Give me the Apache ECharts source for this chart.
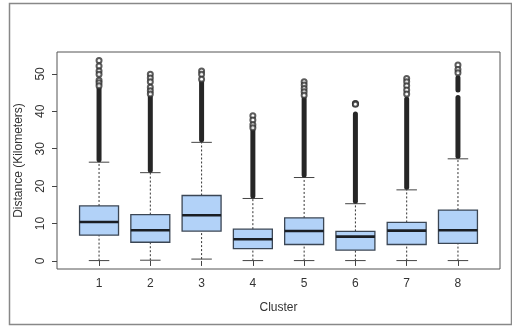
<!DOCTYPE html>
<html><head><meta charset="utf-8">
<script src="https://cdn.jsdelivr.net/npm/echarts@6/dist/echarts.min.js"></script>
<style>html,body{margin:0;padding:0;background:#fff;}#c{width:512px;height:327px;}</style>
</head><body><div id="c"></div>
<script>
const clusters = [1, 2, 3, 4, 5, 6, 7, 8];
const whiskerLow = [0.1, 0.2, 0.5, 0.1, 0.1, 0.1, 0.1, 0.1];
const q1 = [6.9, 5.0, 8.0, 3.3, 4.4, 2.9, 4.4, 4.7];
const median = [10.4, 8.2, 12.2, 5.8, 8.0, 6.5, 8.1, 8.2];
const q3 = [14.7, 12.4, 17.5, 8.5, 11.5, 7.9, 10.3, 13.6];
const whiskerHigh = [26.4, 23.6, 31.7, 16.7, 22.3, 15.3, 19.0, 27.3];
// dense outlier runs: [cluster, from, to]
const denseRuns = [
  [1, 26.4, 46.0],
  [2, 23.6, 43.7],
  [3, 31.7, 47.7],
  [4, 16.7, 34.8],
  [5, 22.3, 43.3],
  [6, 15.3, 39.3],
  [7, 19.0, 43.3],
  [8, 27.3, 43.7],
  [8, 45.0, 49.0]
];
// individual outliers: [cluster, value]
const outliers = [
  [1, 53.6], [1, 52.1], [1, 50.8], [1, 49.9], [1, 48.3], [1, 47.6], [1, 46.8],
  [2, 49.9], [2, 48.9], [2, 47.9], [2, 46.4], [2, 45.5], [2, 44.6],
  [3, 50.8], [3, 49.9], [3, 48.6],
  [4, 38.8], [4, 37.7], [4, 36.4], [4, 35.6],
  [5, 47.9], [5, 47.0], [5, 46.1], [5, 45.2], [5, 44.3],
  [6, 42.1], [6, 42.0], [6, 41.9],
  [7, 48.8], [7, 47.9], [7, 46.8], [7, 45.7], [7, 44.6],
  [8, 52.4], [8, 51.2], [8, 50.3]
];
const yTicks = [0, 10, 20, 30, 40, 50];

const boxData = clusters.map((c, i) => [c, whiskerLow[i], q1[i], median[i], q3[i], whiskerHigh[i]]);

const chart = echarts.init(document.getElementById('c'), null, {renderer: 'canvas'});
const edge = '#3b4654';
const font = 'Liberation Sans, Arial, sans-serif';
chart.setOption({
  animation: false,
  backgroundColor: '#fff',
  grid: {left: 57, top: 52, right: 12, bottom: 58, show: true, borderColor: '#555', borderWidth: 1},
  xAxis: {
    type: 'value', min: 0.18, max: 8.82,
    axisLine: {show: false},
    splitLine: {show: false},
    axisTick: {show: true, length: 5, lineStyle: {color: '#444'}, customValues: clusters},
    axisLabel: {show: true, margin: 9, fontSize: 12, color: '#333', fontFamily: font, customValues: clusters},
    name: 'Cluster', nameLocation: 'middle', nameGap: 33,
    nameTextStyle: {fontSize: 12, color: '#333', fontFamily: font}
  },
  yAxis: {
    type: 'value', min: -2.15, max: 55.85,
    axisLine: {show: false},
    splitLine: {show: false},
    axisTick: {show: true, length: 5, lineStyle: {color: '#444'}, customValues: yTicks},
    axisLabel: {show: true, rotate: 90, margin: 10, fontSize: 12, color: '#333', fontFamily: font, customValues: yTicks},
    name: 'Distance (Kilometers)', nameLocation: 'middle', nameGap: 32, nameRotate: 90,
    nameTextStyle: {fontSize: 12, color: '#333', fontFamily: font}
  },
  graphic: [{
    type: 'rect', shape: {x: 9.5, y: 3.5, width: 502, height: 321},
    style: {fill: null, stroke: '#888', lineWidth: 1.5}, z: 100, silent: true
  }],
  series: [
    {
      type: 'custom',
      data: boxData,
      renderItem: function (params, api) {
        const x = api.value(0);
        const w = api.size([0.76, 0])[0];
        const cw = api.size([0.4, 0])[0];
        const pLo = api.coord([x, api.value(1)]);
        const pQ1 = api.coord([x, api.value(2)]);
        const pMed = api.coord([x, api.value(3)]);
        const pQ3 = api.coord([x, api.value(4)]);
        const pHi = api.coord([x, api.value(5)]);
        const cx = pMed[0];
        const dash = {stroke: '#333', lineWidth: 1, lineDash: [2, 2]};
        const solid = {stroke: '#444', lineWidth: 1};
        return {
          type: 'group',
          children: [
            {type: 'line', shape: {x1: cx, y1: pLo[1], x2: cx, y2: pQ1[1]}, style: dash},
            {type: 'line', shape: {x1: cx, y1: pQ3[1], x2: cx, y2: pHi[1]}, style: dash},
            {type: 'line', shape: {x1: cx - cw / 2, y1: pLo[1], x2: cx + cw / 2, y2: pLo[1]}, style: solid},
            {type: 'line', shape: {x1: cx - cw / 2, y1: pHi[1], x2: cx + cw / 2, y2: pHi[1]}, style: solid},
            {type: 'rect', shape: {x: cx - w / 2, y: pQ3[1], width: w, height: pQ1[1] - pQ3[1]},
             style: {fill: '#b2d2f8', stroke: edge, lineWidth: 1.3}},
            {type: 'line', shape: {x1: cx - w / 2, y1: pMed[1], x2: cx + w / 2, y2: pMed[1]},
             style: {stroke: '#1a1e24', lineWidth: 2.6}}
          ]
        };
      },
      z: 2
    },
    {
      type: 'custom',
      data: denseRuns,
      renderItem: function (params, api) {
        const x = api.value(0);
        const a = api.coord([x, api.value(1)]);
        const b = api.coord([x, api.value(2)]);
        const bw = 5;
        return {
          type: 'rect',
          shape: {x: a[0] - bw / 2, y: b[1] - bw / 2, width: bw, height: a[1] - b[1] + bw / 2, r: bw / 2},
          style: {fill: '#262626'}
        };
      },
      z: 3
    },
    {
      type: 'scatter',
      data: outliers,
      symbol: 'emptyCircle',
      symbolSize: 5,
      itemStyle: {color: '#333', borderWidth: 1.1},
      z: 4
    }
  ]
});
</script>
</body></html>
